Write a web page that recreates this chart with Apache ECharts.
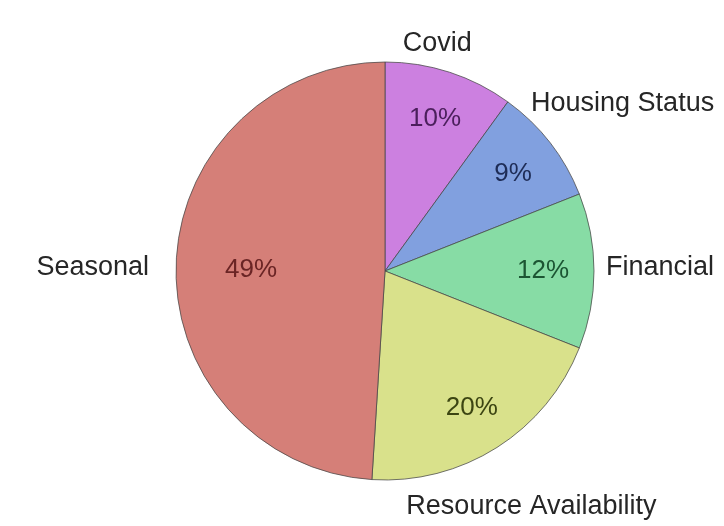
<!DOCTYPE html>
<html>
<head>
<meta charset="utf-8">
<script src="https://cdn.jsdelivr.net/npm/echarts@6/dist/echarts.min.js"></script>
<style>
  html, body { margin: 0; padding: 0; background: #fff; }
  #chart { width: 724px; height: 526px; }
</style>
</head>
<body>
<div id="chart"></div>
<script>
// data
const categories = ['Covid', 'Housing Status', 'Financial', 'Resource Availability', 'Seasonal'];
const shares = [10, 9, 12, 20, 49];

// styles
const sliceColors = ['#cc80e0', '#81a0df', '#87dca5', '#d9e18b', '#d57f78'];
const pctColors = ['#4b1f5c', '#1e2c56', '#1c5533', '#3c4512', '#6a2525'];
// label nudges (px) from the default outside / inside spots
const nameNudge = [[-55, -19], [-32, -33], [-3, -3], [-101, 51], [-12, 3]];
const pctNudge = [[0, 2], [0, 2], [-4, 0], [0, 0], [28, 4]];

const FONT = '"Liberation Sans", Arial, sans-serif';
const chart = echarts.init(document.getElementById('chart'));

const mainData = categories.map((name, i) => ({
    name: name,
    value: shares[i],
    itemStyle: { color: sliceColors[i] }
}));
const pctData = categories.map((name, i) => ({
    name: name,
    value: shares[i],
    label: { color: pctColors[i] }
}));

chart.setOption({
    animation: false,
    series: [
        {
            type: 'pie',
            center: [385, 271],
            radius: 209,
            startAngle: 90,
            clockwise: true,
            avoidLabelOverlap: false,
            silent: true,
            itemStyle: { borderColor: 'rgba(70,70,70,0.75)', borderWidth: 1 },
            label: {
                show: true,
                position: 'outside',
                alignTo: 'none',
                formatter: '{b}',
                color: '#262626',
                fontFamily: FONT,
                fontSize: 27
            },
            labelLine: { show: false, length: 10, length2: 0 },
            labelLayout: p => ({ dx: nameNudge[p.dataIndex][0], dy: nameNudge[p.dataIndex][1] }),
            data: mainData
        },
        {
            // transparent ring only to place the percentage labels
            type: 'pie',
            center: [385, 271],
            radius: [109, 209],
            startAngle: 90,
            clockwise: true,
            silent: true,
            itemStyle: { color: 'transparent', borderWidth: 0 },
            label: {
                show: true,
                position: 'inside',
                formatter: '{c}%',
                fontFamily: FONT,
                fontSize: 26
            },
            labelLine: { show: false },
            labelLayout: p => ({ dx: pctNudge[p.dataIndex][0], dy: pctNudge[p.dataIndex][1] }),
            data: pctData
        }
    ]
});
</script>
</body>
</html>
